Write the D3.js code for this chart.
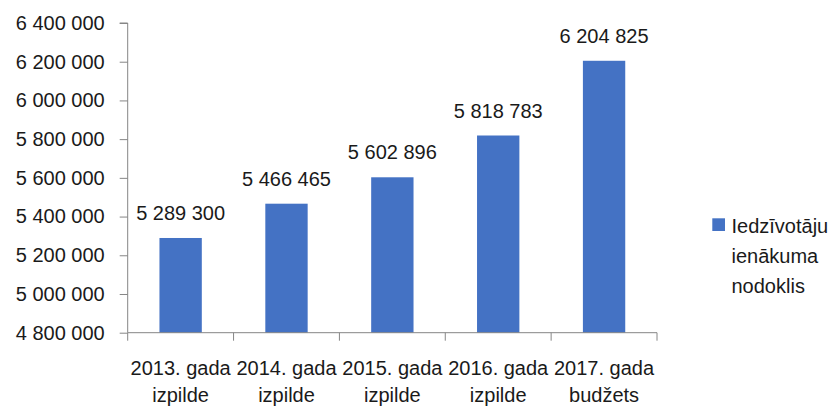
<!DOCTYPE html>
<html><head><meta charset="utf-8">
<script src="https://cdn.jsdelivr.net/npm/d3@7/dist/d3.min.js"></script>
<style>
html,body{margin:0;padding:0;background:#fff;}
svg{display:block;}
text{font-family:"Liberation Sans",Arial,sans-serif;fill:#1a1a1a;}
</style></head>
<body>
<svg id="chart" width="833" height="407"></svg>
<script>
const categories = [["2013. gada","izpilde"],["2014. gada","izpilde"],["2015. gada","izpilde"],["2016. gada","izpilde"],["2017. gada","budžets"]];
const values = [5289300, 5466465, 5602896, 5818783, 6204825];
const yTicks = [4800000,5000000,5200000,5400000,5600000,5800000,6000000,6200000,6400000];
const seriesName = ["Iedzīvotāju","ienākuma","nodoklis"];

const W=833,H=407;
const L=127.7, R=657, T=23, B=332.7;
const svg=d3.select("#chart");
const loc=d3.formatLocale({decimal:",",thousands:" ",grouping:[3],currency:["",""]});
const fmt=loc.format(",d");

const x=d3.scaleBand().domain(d3.range(categories.length)).range([L,R]).padding(0);
const y=d3.scaleLinear().domain([4800000,6400000]).range([B,T]);
const axisColor="#868686";
const barW=x.bandwidth()*0.4;

// bars
svg.append("g").selectAll("rect").data(values).join("rect")
  .attr("x",(d,i)=>x(i)+x.bandwidth()/2-barW/2)
  .attr("y",d=>y(d))
  .attr("width",barW)
  .attr("height",d=>B-y(d))
  .attr("fill","#4472C4");

// data labels
svg.append("g").selectAll("text").data(values).join("text")
  .attr("x",(d,i)=>x(i)+x.bandwidth()/2)
  .attr("y",d=>y(d)-18)
  .attr("text-anchor","middle")
  .attr("font-size",20)
  .text(d=>fmt(d));

// y axis
const ya=svg.append("g").attr("transform",`translate(${L},0)`)
  .call(d3.axisLeft(y).tickValues(yTicks).tickSize(8).tickPadding(15).tickFormat(fmt));
ya.selectAll("path,line").attr("stroke",axisColor).attr("stroke-width",1);
ya.select("path").attr("d",`M-8,${T}H0V${B}`);
ya.selectAll("text").attr("font-size",20).attr("fill","#1a1a1a").attr("font-family","Liberation Sans, Arial, sans-serif");

// x axis
const xa=svg.append("g").attr("transform",`translate(0,${B})`);
xa.append("line").attr("x1",L).attr("x2",R).attr("y1",0).attr("y2",0).attr("stroke",axisColor);
const bounds=d3.range(categories.length+1).map(i=>i<categories.length?x(i):R);
xa.selectAll("line.t").data(bounds).join("line").attr("class","t")
  .attr("x1",d=>d).attr("x2",d=>d).attr("y1",0).attr("y2",8).attr("stroke",axisColor);
const xl=xa.selectAll("text.c").data(categories).join("text").attr("class","c")
  .attr("text-anchor","middle").attr("font-size",20);
xl.each(function(d,i){
  const t=d3.select(this);
  d.forEach((line,j)=>{
    t.append("tspan").attr("x",x(i)+x.bandwidth()/2).attr("y",375-B+j*27).text(line);
  });
});

// legend
const lg=svg.append("g");
lg.append("rect").attr("x",712.3).attr("y",218.3).attr("width",12.7).attr("height",12.7).attr("fill","#4472C4");
lg.selectAll("text").data(seriesName).join("text")
  .attr("x",731.5).attr("y",(d,i)=>233.3+i*30).attr("font-size",20).text(d=>d);
</script>
</body></html>
